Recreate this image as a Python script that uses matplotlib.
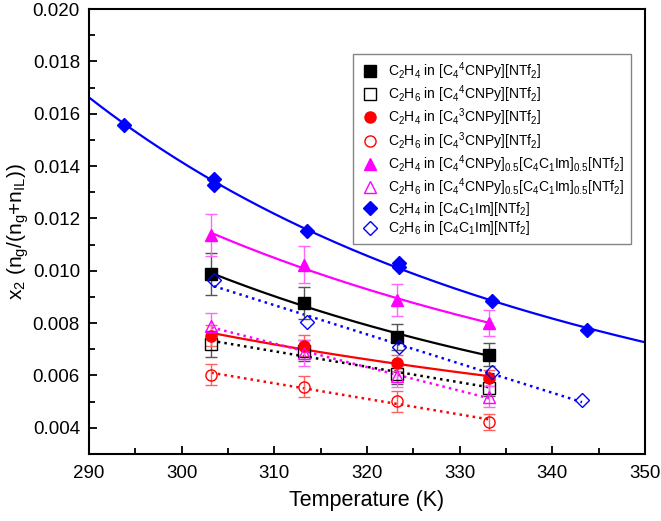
import numpy as np
import matplotlib
matplotlib.use("Agg")
import matplotlib.pyplot as plt
from matplotlib.ticker import MultipleLocator, FormatStrFormatter

plt.rcParams['font.family'] = ['Liberation Sans', 'DejaVu Sans']
plt.rcParams['mathtext.fontset'] = 'custom'
plt.rcParams['mathtext.rm'] = 'Liberation Sans'
plt.rcParams['mathtext.it'] = 'Liberation Sans'
plt.rcParams['mathtext.default'] = 'regular'

# ---- data ----
T_common = [303.2, 313.2, 323.2, 333.2]

c4cnpy_c2h4 = [0.00988, 0.00877, 0.00748, 0.00680]
c4cnpy_c2h4_err = [0.0008, 0.0006, 0.0005, 0.00045]
c4cnpy_c2h6 = [0.00721, 0.00695, 0.00606, 0.00553]
c4cnpy_c2h6_err = [0.0005, 0.0004, 0.0004, 0.0003]

c3cnpy_c2h4 = [0.00752, 0.00713, 0.00648, 0.00591]
c3cnpy_c2h4_err = [0.0004, 0.0004, 0.0003, 0.0003]
c3cnpy_c2h6 = [0.00603, 0.00557, 0.00502, 0.00423]
c3cnpy_c2h6_err = [0.0004, 0.0004, 0.0004, 0.0003]

mix_c2h4 = [0.01137, 0.01023, 0.00889, 0.00801]
mix_c2h4_err = [0.0008, 0.0007, 0.0006, 0.0005]
mix_c2h6 = [0.00790, 0.00687, 0.00597, 0.00519]
mix_c2h6_err = [0.0005, 0.0005, 0.0004, 0.0004]

T_im_c2h4 = [293.8, 303.5, 303.5, 313.5, 323.5, 323.5, 333.5, 343.7]
im_c2h4 = [0.01555, 0.01351, 0.01327, 0.01153, 0.01030, 0.01013, 0.00885, 0.00772]
T_im_c2h6 = [303.5, 313.5, 323.5, 333.5, 343.2]
im_c2h6 = [0.00963, 0.00805, 0.00708, 0.00612, 0.00505]

labels = [
    r"C$_2$H$_4$ in [C$_4$$^4$CNPy][NTf$_2$]",
    r"C$_2$H$_6$ in [C$_4$$^4$CNPy][NTf$_2$]",
    r"C$_2$H$_4$ in [C$_4$$^3$CNPy][NTf$_2$]",
    r"C$_2$H$_6$ in [C$_4$$^3$CNPy][NTf$_2$]",
    r"C$_2$H$_4$ in [C$_4$$^4$CNPy]$_{0.5}$[C$_4$C$_1$Im]$_{0.5}$[NTf$_2$]",
    r"C$_2$H$_6$ in [C$_4$$^4$CNPy]$_{0.5}$[C$_4$C$_1$Im]$_{0.5}$[NTf$_2$]",
    r"C$_2$H$_4$ in [C$_4$C$_1$Im][NTf$_2$]",
    r"C$_2$H$_6$ in [C$_4$C$_1$Im][NTf$_2$]",
]

fig = plt.figure(figsize=(6.61, 5.21), dpi=100)
ax = fig.add_axes([0.1346, 0.1286, 0.8412, 0.8541])


def vant_hoff(T, y, x0, x1):
    T = np.asarray(T); y = np.asarray(y)
    b, a = np.polyfit(1.0 / T, np.log(y), 1)
    xx = np.linspace(x0, x1, 200)
    return xx, np.exp(a + b / xx)


def linfit(T, y, x0, x1):
    m, c = np.polyfit(T, y, 1)
    xx = np.linspace(x0, x1, 50)
    return xx, m * xx + c


ms = 8
series = [
    (T_common, c4cnpy_c2h4, c4cnpy_c2h4_err, 'black', 's', True, '#555555', labels[0]),
    (T_common, c4cnpy_c2h6, c4cnpy_c2h6_err, 'black', 's', False, '#555555', labels[1]),
    (T_common, c3cnpy_c2h4, c3cnpy_c2h4_err, 'red', 'o', True, '#ff6060', labels[2]),
    (T_common, c3cnpy_c2h6, c3cnpy_c2h6_err, 'red', 'o', False, '#ff6060', labels[3]),
    (T_common, mix_c2h4, mix_c2h4_err, 'magenta', '^', True, '#ff66ff', labels[4]),
    (T_common, mix_c2h6, mix_c2h6_err, 'magenta', '^', False, '#ff66ff', labels[5]),
]

# fitted lines
for T, y, err, col, mk, filled, ecol, lab in series:
    if filled:
        xx, yy = vant_hoff(T, y, T[0], T[-1])
        ax.plot(xx, yy, '-', color=col, lw=1.6, zorder=2)
    else:
        xx, yy = linfit(T, y, T[0], T[-1])
        ax.plot(xx, yy, ':', color=col, lw=1.8, zorder=2)

xx, yy = vant_hoff(T_im_c2h4, im_c2h4, 290, 350)
ax.plot(xx, yy, '-', color='blue', lw=1.6, zorder=2)
xx, yy = linfit(T_im_c2h6, im_c2h6, T_im_c2h6[0], T_im_c2h6[-1])
ax.plot(xx, yy, ':', color='blue', lw=1.8, zorder=2)

handles = []
for T, y, err, col, mk, filled, ecol, lab in series:
    ax.errorbar(T, y, yerr=err, fmt='none', ecolor=ecol, elinewidth=1.0,
                capsize=4, capthick=1.0, zorder=3)
    h, = ax.plot(T, y, linestyle='none', marker=mk, markersize=ms if mk != '^' else ms + 1,
                 markerfacecolor=col if filled else 'none', markeredgecolor=col,
                 markeredgewidth=1.0, zorder=4, label=lab)
    handles.append(h)

h, = ax.plot(T_im_c2h4, im_c2h4, linestyle='none', marker='D', markersize=7.5,
             markerfacecolor='blue', markeredgecolor='blue', zorder=4, label=labels[6])
handles.append(h)
h, = ax.plot(T_im_c2h6, im_c2h6, linestyle='none', marker='D', markersize=7.5,
             markerfacecolor='none', markeredgecolor='blue', markeredgewidth=1.0,
             zorder=4, label=labels[7])
handles.append(h)

ax.set_xlim(290, 350)
ax.set_ylim(0.003, 0.020)
ax.xaxis.set_major_locator(MultipleLocator(10))
ax.xaxis.set_minor_locator(MultipleLocator(5))
ax.yaxis.set_major_locator(MultipleLocator(0.002))
ax.yaxis.set_minor_locator(MultipleLocator(0.001))
ax.yaxis.set_major_formatter(FormatStrFormatter('%.3f'))
ax.tick_params(which='both', direction='in', top=False, right=False, labelsize=13.5, width=1.3)
ax.tick_params(which='major', length=6)
ax.tick_params(axis='x', which='major', pad=8)
ax.tick_params(axis='y', which='major', pad=6.5)
ax.tick_params(which='minor', length=4)
for s in ax.spines.values():
    s.set_linewidth(1.5)

ax.set_xlabel('Temperature (K)', fontsize=15.5, labelpad=6)
ax.set_ylabel(r'x$_2$ (n$_g$/(n$_g$+n$_{IL}$))', fontsize=15, labelpad=1)

leg = ax.legend(handles=handles, loc='upper right', bbox_to_anchor=(0.974, 0.899),
                fontsize=10, frameon=True, fancybox=False, edgecolor='#666666',
                handletextpad=0.5, labelspacing=0.12, borderpad=0.45, handlelength=1.6,
                borderaxespad=0.0)
leg.get_frame().set_linewidth(1.0)

fig.savefig('out.png', dpi=100)
